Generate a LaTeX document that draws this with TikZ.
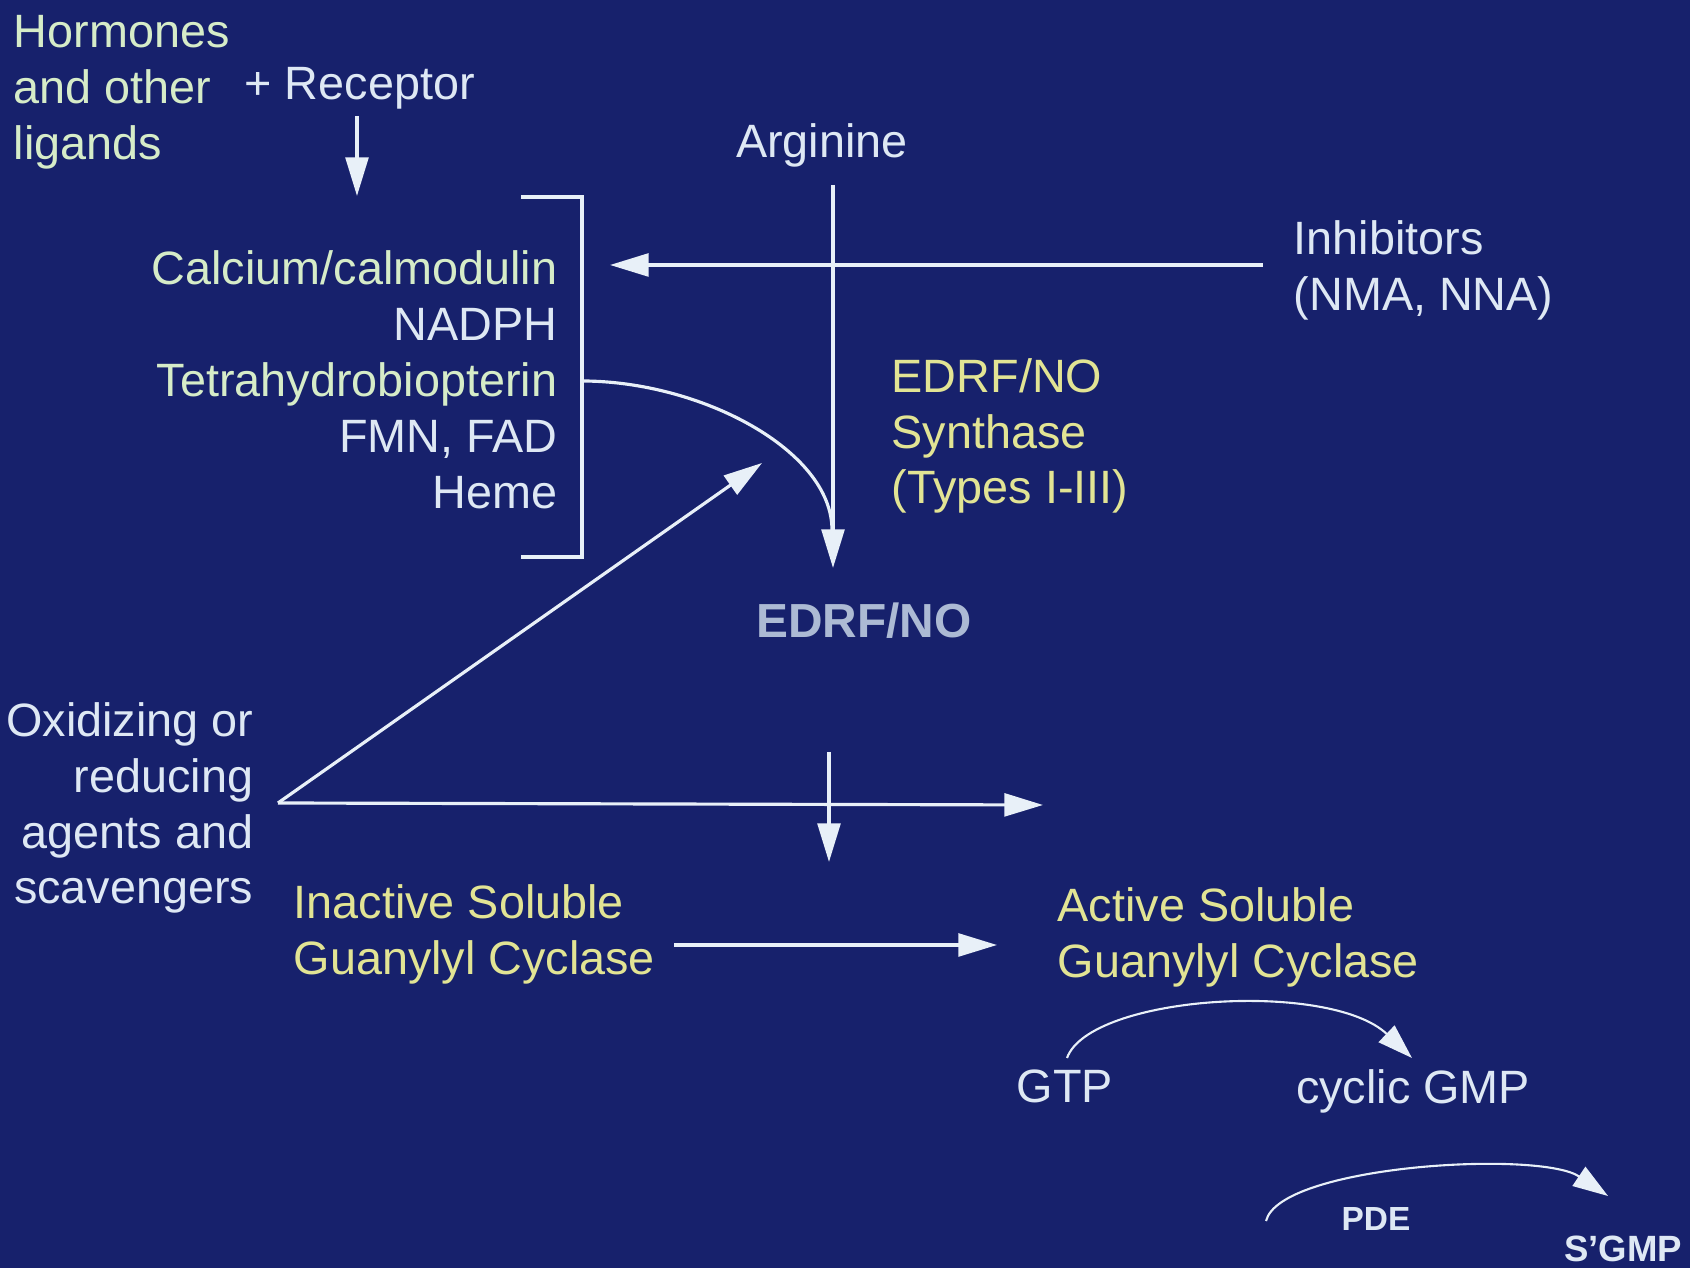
\documentclass[tikz,border=0pt]{standalone}
\usepackage{fontspec}
\setmainfont{Liberation Sans}
\usetikzlibrary{arrows.meta}

\definecolor{slidebg}{RGB}{23,33,108}
\definecolor{txtwhite}{RGB}{222,232,244}
\definecolor{txtpale}{RGB}{214,236,200}
\definecolor{txtyellow}{RGB}{226,228,148}
\definecolor{txtgray}{RGB}{172,186,212}
\definecolor{linewhite}{RGB}{232,240,248}

\begin{document}
\begin{tikzpicture}[x=0.01cm,y=-0.01cm,
   wtext/.style={inner sep=0pt,font=\fontsize{13.3}{15.9}\selectfont,text=txtwhite},
   ptext/.style={wtext,text=txtpale},
   ytext/.style={wtext,text=txtyellow},
   smalltext/.style={inner sep=0pt,font=\fontsize{9.5}{11}\selectfont\bfseries,text=txtwhite},
   line/.style={draw=linewhite,line width=0.9pt},
   arrow/.style={line,-{Triangle[length=11pt,width=6.5pt]}},
   thinarrow/.style={draw=linewhite,line width=0.6pt,-{Triangle[length=10pt,width=6.5pt]}}
]
   \fill[slidebg] (0,0) rectangle (1690,1268);

   % top left
   \node[ptext,anchor=west,align=left] (horm) at (13,92)
      {Hormones\\and other\\ligands};
   \node[wtext,anchor=west] (recep) at (244,88) {+ Receptor};
   \node[ptext,anchor=east,align=right] (cofac) at (558,380)
      {Calcium/calmodulin\\\textcolor{txtwhite}{NADPH}\\Tetrahydrobiopterin\\
       \textcolor{txtwhite}{FMN, FAD}\\\textcolor{txtwhite}{Heme}};

   % middle
   \node[wtext] (arg) at (822,145) {Arginine};
   \node[wtext,anchor=west,align=left] (inhib) at (1293,270)
      {Inhibitors\\(NMA, NNA)};
   \node[ytext,anchor=west,align=left] (synth) at (891,436)
      {EDRF/NO\\Synthase\\(Types I-III)};
   \node[wtext,text=txtgray,font=\fontsize{13.6}{16}\selectfont\bfseries] (edrf) at (864,621) {EDRF/NO};

   % lower part
   \node[wtext,anchor=east,align=right] (oxid) at (254,808)
      {Oxidizing or\\reducing\\agents and\hspace{4pt}\\scavengers};
   \node[ytext,anchor=west,align=left] (inact) at (293,934)
      {Inactive Soluble\\Guanylyl Cyclase};
   \node[ytext,anchor=west,align=left] (act) at (1057,937)
      {Active Soluble\\Guanylyl Cyclase};
   \node[wtext] (gtp) at (1065,1086) {GTP};
   \node[wtext] (cgmp) at (1413,1091) {cyclic GMP};
   \node[smalltext] (pde) at (1376,1219) {PDE};
   \node[smalltext,font=\fontsize{10.4}{12}\selectfont\bfseries] (sgmp) at (1623,1249) {S’GMP};

   % free ends
   \coordinate (rc1) at (357,116);
   \coordinate (rc2) at (357,196);
   \coordinate (bt1) at (521,197);
   \coordinate (bt2) at (582,197);
   \coordinate (bb2) at (582,557);
   \coordinate (bb1) at (521,557);
   \coordinate (bmid) at (582,381);
   \coordinate (argtop) at (833,185);
   \coordinate (nostop) at (833,568);
   \coordinate (inh1) at (1263,265);
   \coordinate (inh2) at (610,265);
   \coordinate (oxpt) at (278,803);
   \coordinate (diag) at (762,463);
   \coordinate (hz) at (1043,805);
   \coordinate (vs1) at (829,752);
   \coordinate (vs2) at (829,862);
   \coordinate (gc1) at (674,945);
   \coordinate (gc2) at (997,945);
   \coordinate (gtpin) at (1067,1058);
   \coordinate (gtpout) at (1412,1058);
   \coordinate (pdein) at (1266,1221);
   \coordinate (pdeout) at (1608,1196);

   \draw[arrow] (rc1) -- (rc2);
   \draw[line] (bt1) -- (bt2) -- (bb2) -- (bb1);
   \draw[arrow] (argtop) -- (nostop);
   \draw[arrow] (inh1) -- (inh2);
   \draw[line] (bmid) .. controls (700,381) and (832,450) .. (832,530);

   \draw[arrow] (oxpt) -- (diag);
   \draw[arrow] (oxpt) -- (hz);
   \draw[arrow] (vs1) -- (vs2);
   \draw[arrow] (gc1) -- (gc2);

   \draw[thinarrow] (gtpin) .. controls (1090,995) and (1330,980) .. (gtpout);
   \draw[thinarrow] (pdein) .. controls (1280,1165) and (1540,1150) .. (pdeout);
\end{tikzpicture}
\end{document}
